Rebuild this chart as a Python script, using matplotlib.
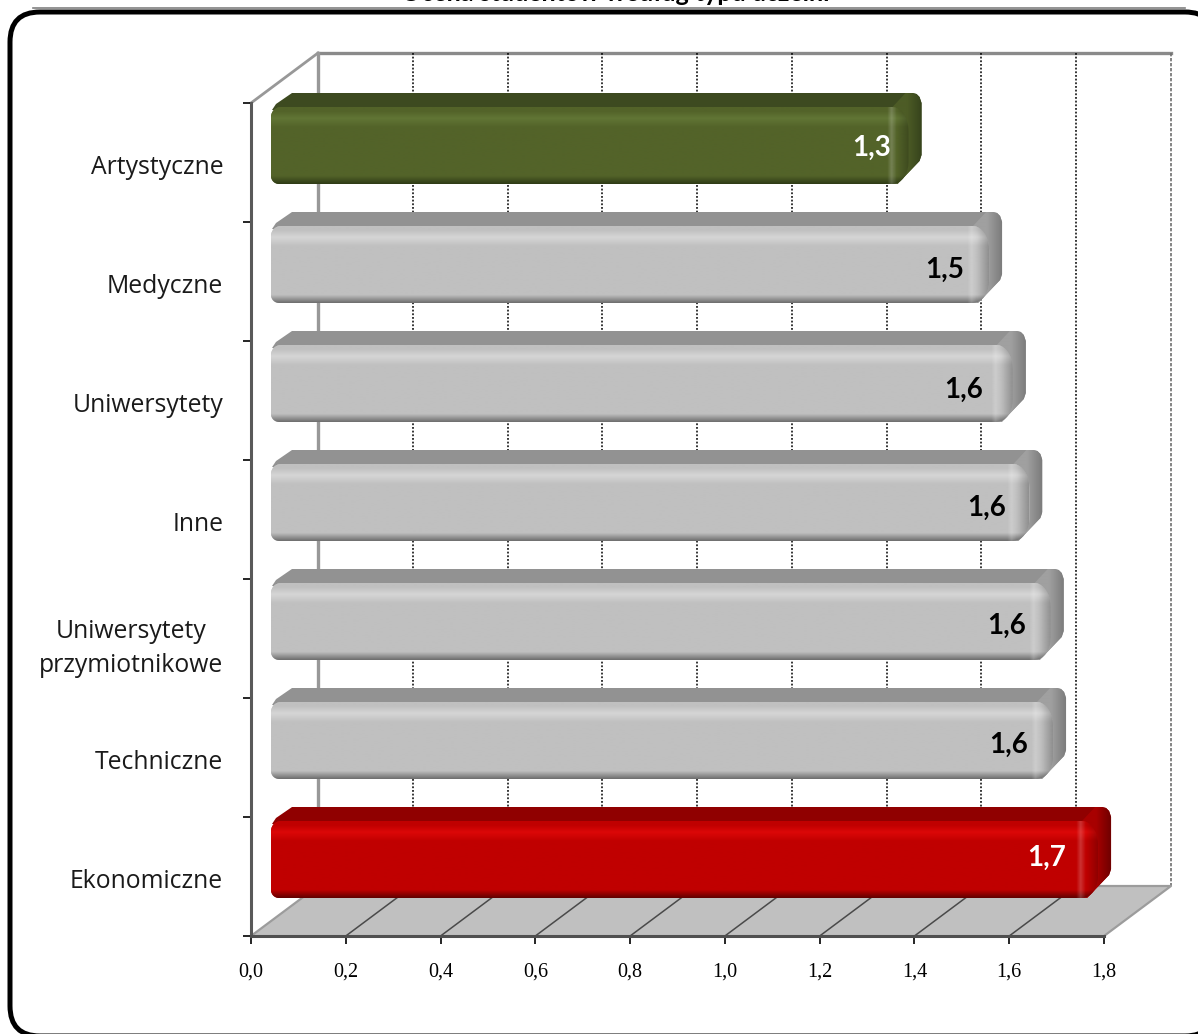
import numpy as np
import matplotlib
matplotlib.use("Agg")
import matplotlib.pyplot as plt
from matplotlib.colors import to_rgb
from matplotlib.patches import FancyBboxPatch, Polygon
from matplotlib.transforms import Affine2D

# data, top to bottom
categories = ["Artystyczne", "Medyczne", "Uniwersytety", "Inne",
              "Uniwersytety\nprzymiotnikowe", "Techniczne", "Ekonomiczne"]
values = [1.32, 1.49, 1.54, 1.575, 1.62, 1.625, 1.72]
value_labels = ["1,3", "1,5", "1,6", "1,6", "1,6", "1,6", "1,7"]
x_ticks = [0.0, 0.2, 0.4, 0.6, 0.8, 1.0, 1.2, 1.4, 1.6, 1.8]
x_tick_labels = ["0,0", "0,2", "0,4", "0,6", "0,8", "1,0", "1,2", "1,4", "1,6", "1,8"]
title = "Ocena studentów według typu uczelni"

# layout in pixels
W, H = 1198, 1034
DEPTH_X, DEPTH_Y = 67, 50
label_dx = [-25, -32, -37, -31, -32, -33, -39]
label_dy = [45, 48, 49, 48, 47, 47, 41]

GRAY = dict(base="#c0c0c0", light="#d6d6d6", dark="#6e6e6e", top="#929292", side="#7c7c7c", side2="#a0a0a0", text="black")
GREEN = dict(base="#536329", light="#617535", dark="#2f3b16", top="#3d4a20", side="#36431c", side2="#4d5c26", text="white")
RED = dict(base="#c00000", light="#dc0808", dark="#620000", top="#900000", side="#700000", side2="#a80000", text="white")
palettes = [GREEN, GRAY, GRAY, GRAY, GRAY, GRAY, RED]

fig = plt.figure(figsize=(W / 100, H / 100), dpi=100, facecolor="white")
ax = fig.add_axes([251 / W, (H - 936) / H, 853 / W, 833 / H], facecolor="none")
ax.set_autoscale_on(False)
ax.set_xlim(0, 1.8)
ax.set_ylim(7, 0)

# pixel space with y going down, same as the picture
PX = Affine2D().scale(1, -1).translate(0, H)
fig.canvas.draw()


def to_px(x, y):
    px, py = ax.transData.transform((x, y))
    return px, H - py


def ramp(stops, colors, n=120):
    t = np.linspace(0, 1, n)
    rgb = np.array([to_rgb(c) for c in colors])
    return np.stack([np.interp(t, stops, rgb[:, k]) for k in range(3)], axis=1)


def shaded(arr, x0, y0, x1, y1, clip, z):
    im = ax.imshow(arr, extent=(x0, x1, y1, y0), transform=PX, aspect="auto",
                   interpolation="bilinear", zorder=z)
    im.set_clip_box(fig.bbox)
    im.set_clip_path(clip)
    return im


def arc(cx, cy, rx, ry, a0, a1, n=10):
    a = np.radians(np.linspace(a0, a1, n))
    return list(zip(cx + rx * np.cos(a), cy + ry * np.sin(a)))


def front_shape(x0, yf, xe, yb, z):
    # small round corners on the left, wide bulge on the right end
    pts = arc(x0 + 10, yf + 10, 10, 10, 180, 270)
    pts += arc(xe - 4, yf + 24, 16, 24, 270, 360)
    pts += arc(xe - 4, yb - 22, 16, 22, 0, 90)
    pts += arc(x0 + 8, yb - 8, 8, 8, 90, 180)
    p = Polygon(pts, transform=PX, fc="none", ec="none", zorder=z, clip_on=False)
    ax.add_patch(p)
    return p


# outer frame, runs off the picture on the right
ax.add_line(plt.Line2D([33, 1185], [8, 8], color="#808080", lw=1.2, transform=PX, clip_on=False, zorder=0))
frame = FancyBboxPatch((10, 12), 1205, 1024, boxstyle="round,pad=0,rounding_size=30", transform=PX,
                       fc="white", ec="black", lw=3.6, zorder=0.5, clip_on=False)
ax.add_patch(frame)
fig.text(615 / W, 1 - 1 / H, title, ha="center", va="baseline", fontsize=18, fontweight="bold",
         family="Lato", color="black")

# floor
fl, fb = to_px(0, 7), to_px(1.8, 7)
ax.add_patch(Polygon([fl, fb, (fb[0] + DEPTH_X, fb[1] - DEPTH_Y), (fl[0] + DEPTH_X, fl[1] - DEPTH_Y)],
                     transform=PX, fc="#c0c0c0", ec="none", zorder=1, clip_on=False))
ax.add_line(plt.Line2D([fl[0], fl[0] + DEPTH_X, fb[0] + DEPTH_X, fb[0]],
                       [fl[1], fl[1] - DEPTH_Y, fb[1] - DEPTH_Y, fb[1]],
                       color="#9c9c9c", lw=1.6, transform=PX, clip_on=False, zorder=1.2))

# back wall and its grid, the front plane pushed back by the depth
back = ax.transData + Affine2D().translate(DEPTH_X, DEPTH_Y)
ax.plot([0, 1.8], [0, 0], color="#8a8a8a", lw=2.4, transform=back, clip_on=False, zorder=1)
ax.plot([0, 0], [0, 7], color="#989898", lw=2.4, transform=back, clip_on=False, zorder=1)
for xt in x_ticks[1:-1]:
    ax.plot([xt, xt], [0, 7], color="black", lw=1.1, ls=(0, (1.2, 1.2)), transform=back, clip_on=False, zorder=1)
ax.plot([1.8, 1.8], [0, 7], color="#707070", lw=1.2, ls=(0, (2, 1)), transform=back, clip_on=False, zorder=1)
# left side wall top edge
px0, py0 = to_px(0, 0)
ax.add_line(plt.Line2D([px0, px0 + DEPTH_X], [py0, py0 - DEPTH_Y], color="#989898", lw=2, transform=PX,
                       clip_on=False, zorder=1))
# floor grid
for xt in x_ticks[1:-1]:
    tx, ty = to_px(xt, 7)
    ax.add_line(plt.Line2D([tx, tx + DEPTH_X], [ty, ty - DEPTH_Y], color="#4a4a4a", lw=1.1, transform=PX,
                           clip_on=False, zorder=1.3))

# bars: real barh for the front face, shading on top of it
BASE = 0.0422
BAR_TOP, BAR_H = 0.0336, 0.647
bars = ax.barh([i + BAR_TOP + BAR_H / 2 for i in range(len(values))], values, height=BAR_H, left=BASE,
               color=[p["base"] for p in palettes], zorder=3.2, clip_on=True)

for i, (bar, v, pal) in enumerate(zip(bars, values, palettes)):
    x0, yf = to_px(BASE, i + BAR_TOP)
    xe, yb = to_px(BASE + v, i + BAR_TOP + BAR_H)
    ytop = yf - 14

    # top face and right side silhouette
    outline_right = [(xe + 16, ytop), (xe + 20, ytop + 1), (xe + 23, ytop + 4), (xe + 25, ytop + 10),
                     (xe + 25, yb - 29), (xe + 23, yb - 23), (xe + 1, yb)]
    shell = Polygon([(x0 + 1, yf + 3), (x0 + 5, yf - 3), (x0 + 21, ytop)] + outline_right,
                    transform=PX, fc=pal["top"], ec="none", zorder=3, clip_on=False)
    ax.add_patch(shell)
    side = Polygon([(xe - 5, yf + 1), (xe + 9, ytop)] + outline_right,
                   transform=PX, fc="none", ec="none", zorder=3.05, clip_on=False)
    ax.add_patch(side)
    shaded(ramp([0, 0.5, 1], [pal["side2"], pal["side2"], pal["side"]])[None, :, :], xe - 5, ytop, xe + 25, yb,
           side, 3.05)

    # front face, with the highlight band and dark lower rim
    front = front_shape(x0, yf, xe, yb, 3.1)
    bar.set_clip_box(fig.bbox)
    bar.set_clip_path(front)
    h = yb - yf
    stops = [0, 4 / h, 11 / h, 20 / h, (h - 8) / h, 1]
    cols = [pal["base"], pal["base"], pal["light"], pal["base"], pal["base"], pal["dark"]]
    shaded(ramp(stops, cols, 160)[:, None, :], x0, yf, xe + 12, yb, front, 3.3)

    # soft light then dark at the bar end, blends into the face
    t = np.linspace(0, 1, 40)
    overlay = np.zeros((1, 40, 4))
    overlay[0, :, :3] = np.where(t[:, None] < 0.45, 1.0, 0.0)
    overlay[0, :, 3] = np.interp(t, [0, 0.2, 0.45, 1], [0, 0.2, 0, 0.25])
    shaded(overlay, xe - 10, yf, xe + 12, yb, front, 3.4)

    ax.annotate(value_labels[i], (BASE + v, i), xytext=(label_dx[i], -label_dy[i]),
                textcoords="offset pixels", ha="center", va="center", color=pal["text"],
                fontsize=20, fontweight="bold", family="Lato", zorder=5)

# axes furniture
for s in ("top", "right"):
    ax.spines[s].set_visible(False)
ax.spines["left"].set(color="#595959", lw=2.2, zorder=2.5)
ax.spines["bottom"].set(color="#505050", lw=2.2, zorder=2.5)

ax.set_xticks(x_ticks, x_tick_labels, family="Liberation Serif", fontsize=14.5)
ax.set_yticks(range(8), [""] * 8)
ax.set_yticks([i + 0.5 for i in range(len(categories))], categories, minor=True,
              family="Open Sans", fontsize=17.8, linespacing=1.5)
ax.tick_params(axis="x", length=6, width=1.2, color="black", pad=13, labelcolor="black")
ax.tick_params(axis="y", which="major", length=6, width=1.2, color="black")
ax.tick_params(axis="y", which="minor", length=0, pad=20, labelcolor="#1a1a1a")
for lab in ax.get_yticklabels(minor=True):
    lab.set_multialignment("center")
    lab.set_transform(lab.get_transform() + Affine2D().translate(0, -2))

fig.savefig("out.png", dpi=100)
